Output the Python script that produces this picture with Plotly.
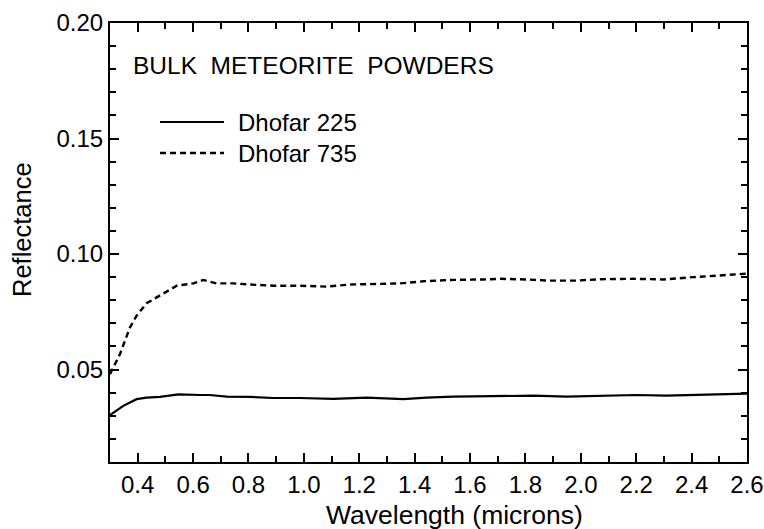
import plotly.graph_objects as go

# Wavelength (microns) and reflectance
wl_735 = [0.30, 0.306, 0.336, 0.372, 0.396, 0.432, 0.492, 0.541, 0.601, 0.637, 0.685, 0.745, 0.805,
          0.890, 0.986, 1.082, 1.166, 1.287, 1.347, 1.431, 1.527, 1.648, 1.708, 1.804, 1.888,
          1.985, 2.069, 2.189, 2.298, 2.406, 2.502, 2.60]
refl_735 = [0.0480, 0.0494, 0.0567, 0.0682, 0.0733, 0.0787, 0.0827, 0.0863, 0.0873, 0.0888, 0.0873,
            0.0873, 0.0868, 0.0863, 0.0863, 0.0859, 0.0868, 0.0871, 0.0873, 0.0882, 0.0888,
            0.0890, 0.0893, 0.0890, 0.0885, 0.0885, 0.0891, 0.0893, 0.0890, 0.0900, 0.0907, 0.0915]

wl_225 = [0.30, 0.306, 0.348, 0.396, 0.432, 0.480, 0.547, 0.625, 0.660, 0.721, 0.805, 0.890, 0.986,
          1.106, 1.227, 1.359, 1.443, 1.539, 1.708, 1.828, 1.949, 2.069, 2.201, 2.310, 2.430, 2.60]
refl_225 = [0.0303, 0.0308, 0.0343, 0.0372, 0.0379, 0.0382, 0.0393, 0.0390, 0.0390, 0.0383, 0.0382,
            0.0377, 0.0377, 0.0373, 0.0379, 0.0372, 0.0379, 0.0383, 0.0386, 0.0387, 0.0383,
            0.0387, 0.0390, 0.0387, 0.0391, 0.0396]

x_ticks = [0.4, 0.6, 0.8, 1.0, 1.2, 1.4, 1.6, 1.8, 2.0, 2.2, 2.4, 2.6]
y_ticks = [0.05, 0.10, 0.15, 0.20]

series_names = ["Dhofar 225", "Dhofar 735"]
title_text = "BULK\u00a0\u00a0METEORITE\u00a0\u00a0POWDERS"
x_title = "Wavelength (microns)"
y_title = "Reflectance"

FONT = "Liberation Sans, Arial, sans-serif"

fig = go.Figure()
fig.add_trace(go.Scatter(x=wl_225, y=refl_225, mode="lines", name=series_names[0],
                         line=dict(color="black", width=2.2), showlegend=False))
fig.add_trace(go.Scatter(x=wl_735, y=refl_735, mode="lines", name=series_names[1],
                         line=dict(color="black", width=2.4, dash="6px,4px"), showlegend=False))

W, H = 764, 529
ml, mr, mt, mb = 110, 17, 23, 67
pw, ph = W - ml - mr, H - mt - mb

def px_x(px):
    return (px - ml) / pw

def px_y(py):
    return (H - mb - py) / ph

legend_rows = [(122, "solid", 2.2), (153, "6px,4px", 2.4)]
for (py, dash, w), name in zip(legend_rows, series_names):
    fig.add_shape(type="line", xref="paper", yref="paper",
                  x0=px_x(160), x1=px_x(224), y0=px_y(py), y1=px_y(py),
                  line=dict(color="black", width=w, dash=dash))
    fig.add_annotation(xref="paper", yref="paper", x=px_x(236), y=px_y(py),
                       xanchor="left", yanchor="middle", text=name, showarrow=False,
                       font=dict(family=FONT, size=24, color="black"))

fig.add_annotation(xref="paper", yref="paper", x=px_x(131), y=px_y(65),
                   xanchor="left", yanchor="middle", text=title_text, showarrow=False,
                   font=dict(family=FONT, size=24.5, color="black"))

fig.add_annotation(xref="paper", yref="paper", x=px_x(454), y=px_y(515),
                   xanchor="center", yanchor="middle", text=x_title, showarrow=False,
                   font=dict(family=FONT, size=26.5, color="black"))
fig.add_annotation(xref="paper", yref="paper", x=px_x(22), y=px_y(230),
                   xanchor="center", yanchor="middle", text=y_title, showarrow=False,
                   textangle=-90, font=dict(family=FONT, size=25.5, color="black"))

axis_common = dict(showline=True, linecolor="black", linewidth=2, mirror="allticks",
                   ticks="inside", ticklen=9, tickwidth=2, tickcolor="black",
                   showgrid=False, zeroline=False, automargin=False,
                   tickfont=dict(family=FONT, size=24, color="black"))

fig.update_xaxes(range=[0.3, 2.6], tickvals=x_ticks, ticktext=[f"{v:.1f}" for v in x_ticks],
                 minor=dict(dtick=0.1, tick0=0.3, ticks="inside", ticklen=6, tickwidth=2,
                            tickcolor="black", showgrid=False),
                 **axis_common)
fig.update_yaxes(range=[0.01, 0.20], tickvals=y_ticks, ticktext=[f"{v:.2f}" for v in y_ticks],
                 minor=dict(dtick=0.01, tick0=0.0, ticks="inside", ticklen=6, tickwidth=2,
                            tickcolor="black", showgrid=False),
                 **axis_common)

fig.update_layout(width=W, height=H, margin=dict(l=ml, r=mr, t=mt, b=mb, autoexpand=False),
                  plot_bgcolor="white", paper_bgcolor="white", showlegend=False)

fig.write_html("out.html", config={"displayModeBar": False},
               post_script="document.body.style.margin='0';document.body.style.padding='0';")
